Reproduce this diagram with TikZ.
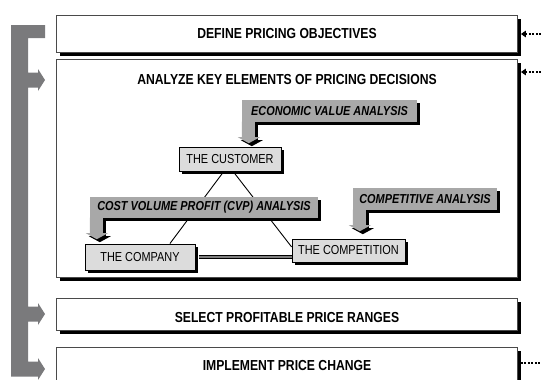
\documentclass[tikz,border=0pt]{standalone}
\usepackage{fontspec}
\setmainfont{Liberation Sans}
\newfontfamily\narfont[FakeStretch=0.84]{Liberation Sans}
\usetikzlibrary{calc,shadows,arrows.meta}
\definecolor{brgray}{HTML}{7A7A7C}
\definecolor{calgray}{HTML}{A8A8A8}
\definecolor{boxgray}{HTML}{DCDCDC}
\definecolor{edgegray}{HTML}{4A4A4A}
\tikzset{
  mainbox/.style={draw=edgegray, line width=0.8pt, fill=white, inner sep=0pt,
    general shadow={fill=black, shadow xshift=3.5pt, shadow yshift=-3.5pt}},
  maintext/.style={font=\narfont\bfseries\fontsize{14.5}{16}\selectfont, inner sep=0pt},
  innerbox/.style={draw=black, line width=0.8pt, fill=boxgray, inner sep=0pt,
    font=\narfont\fontsize{13}{15}\selectfont,
    general shadow={fill=black, shadow xshift=3pt, shadow yshift=-3pt}},
  callbox/.style={fill=calgray, inner sep=0pt,
    font=\narfont\bfseries\itshape\fontsize{13}{15}\selectfont,
    general shadow={fill=black, shadow xshift=3pt, shadow yshift=-3pt}},
  inlink/.style={line width=1.3pt, dash pattern=on 2pt off 1.5pt, -{Triangle[length=5pt,width=6.5pt]}},
  outlink/.style={line width=1.3pt, dash pattern=on 2pt off 1.5pt}
}
\newcommand{\calarrow}[1]{%
  \fill[black] ($(#1.south west)+(3,2.5)$) -- ++(13,0) -- ++(0,15.5) -- ++(5,0) -- ++(-11,6) -- ++(-11,-6) -- ++(4,0) -- cycle;
  \fill[calgray] ($(#1.south west)+(0,-0.5)$) -- ++(13,0) -- ++(0,15.5) -- ++(5,0) -- ++(-11,6) -- ++(-11,-6) -- ++(4,0) -- cycle;}
\begin{document}
\begin{tikzpicture}[x=1pt,y=-1pt]
\useasboundingbox (0,0) rectangle (541,380);
\clip (0,0) rectangle (541,380);

% left feedback bracket
\fill[brgray] (11,25) -- (45,25) -- (45,38) -- (28,38) -- (28,72.5) -- (38,72.5) -- (38,69) -- (45,80) -- (38,91) -- (38,87.5) -- (28,87.5)
  -- (28,306.5) -- (38,306.5) -- (38,303) -- (45,314) -- (38,325) -- (38,321.5) -- (28,321.5)
  -- (28,361.5) -- (38,361.5) -- (38,358) -- (45,369) -- (38,380) -- (38,376.5) -- (11,376.5) -- cycle;

% main boxes
\node[mainbox, minimum width=461pt, minimum height=37.5pt] (define) at (286.5,33.75) {};
\node[mainbox, minimum width=461pt, minimum height=217.5pt] (analyze) at (286.5,168.25) {};
\node[mainbox, minimum width=461pt, minimum height=32pt] (select) at (286.5,314) {};
\node[mainbox, minimum width=461pt, minimum height=53pt] (implement) at (286.5,373.5) {};

\node[maintext] (t1) at (287,34) {DEFINE PRICING OBJECTIVES};
\node[maintext] (t2) at (287,80) {ANALYZE KEY ELEMENTS OF PRICING DECISIONS};
\node[maintext] (t3) at (287,318) {SELECT PROFITABLE PRICE RANGES};
\node[maintext] (t4) at (287,365.5) {IMPLEMENT PRICE CHANGE};

% right dotted inputs
\coordinate (r1) at (541,34);
\coordinate (r2) at (541,72);
\coordinate (r4) at (541,363);
\draw[inlink] (r1) -- ($(define.east |- r1)+(3.5,0)$);
\draw[inlink] (r2) -- ($(analyze.east |- r2)+(3.5,0)$);
\draw[outlink] ($(implement.east |- r4)+(3.5,0)$) -- (r4);

% inner boxes
\node[innerbox, minimum width=102pt, minimum height=24pt] (cust) at (230,159) {THE CUSTOMER};
\node[innerbox, minimum width=110pt, minimum height=26pt] (company) at (140,257) {THE COMPANY};
\node[innerbox, minimum width=113pt, minimum height=23pt] (compet) at (348.5,250.5) {THE COMPETITION};

% triangle
\draw[line width=0.9pt] ($(cust.south west)!0.44!(cust.south east)$) -- ($(company.north west)!0.77!(company.north east)$);
\draw[line width=0.9pt] ($(cust.south west)!0.53!(cust.south east)$) -- ($(compet.north west)!0.35!(compet.south west)$);
\draw[double=black!50, double distance=1.6pt, line width=0.8pt, shorten <=3.5pt] (company.east) -- (company.east -| compet.west);

% callouts
\node[callbox, minimum width=175pt, minimum height=22pt] (eva) at (329.5,111) {ECONOMIC VALUE ANALYSIS};
\calarrow{eva}
\node[callbox, minimum width=228pt, minimum height=21pt] (cvp) at (204,207.5) {COST VOLUME PROFIT (CVP) ANALYSIS};
\calarrow{cvp}
\node[callbox, minimum width=144pt, minimum height=22pt] (compa) at (425,199) {COMPETITIVE ANALYSIS};
\calarrow{compa}
\end{tikzpicture}
\end{document}
